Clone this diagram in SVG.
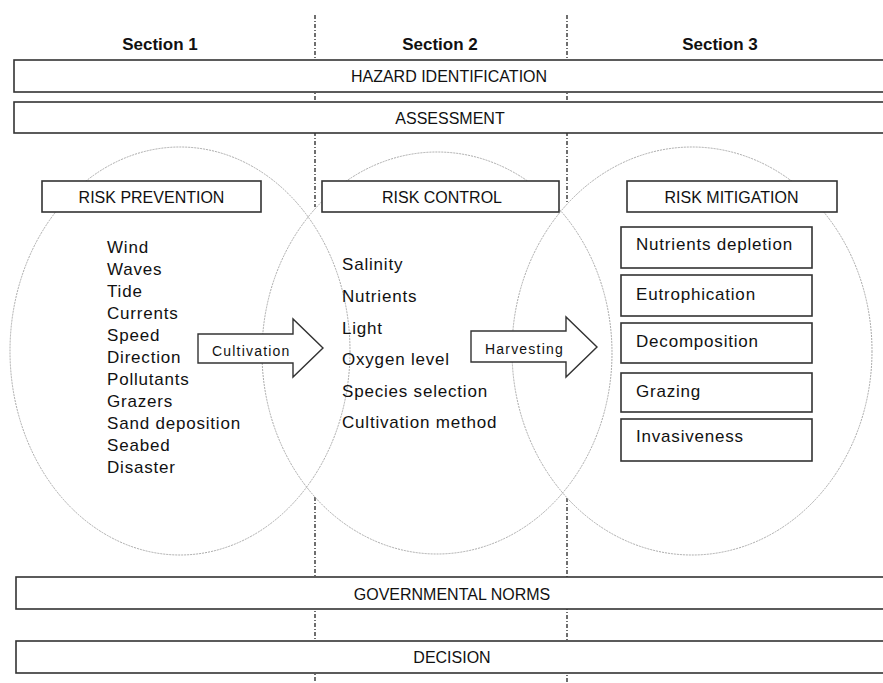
<svg xmlns="http://www.w3.org/2000/svg" width="883" height="683" viewBox="0 0 883 683">
<style>
.bar{fill:#fff;stroke:#333;stroke-width:1.6}
.box{fill:#fff;stroke:#333;stroke-width:1.6}
.ell{fill:none;stroke:#aaa;stroke-width:1;stroke-dasharray:2,1}
.div{stroke:#222;stroke-width:1.3;stroke-dasharray:4,2,1,2;fill:none}
.t{font-family:"Liberation Sans",Arial,sans-serif;fill:#111}
.hd{font-size:17px;font-weight:bold;text-anchor:middle}
.bt{font-size:16px;text-anchor:middle}
.li{font-size:17px;letter-spacing:0.8px}
.ar{fill:#fff;stroke:#333;stroke-width:1.4}
.al{font-size:14px;letter-spacing:1.2px}
</style>
<g id="dividers">
<path class="div" d="M315 15V207M315 497V683M567 15V204M567 498V683"/>
</g>
<g id="headers">
<text class="t hd" x="160" y="50">Section 1</text>
<text class="t hd" x="440" y="50">Section 2</text>
<text class="t hd" x="720" y="50">Section 3</text>
</g>
<g id="hazard">
<rect class="bar" x="14" y="60" width="880" height="32"/>
<text class="t bt" x="449" y="82">HAZARD IDENTIFICATION</text>
</g>
<g id="assessment">
<rect class="bar" x="14" y="102" width="880" height="31"/>
<text class="t bt" x="450" y="124">ASSESSMENT</text>
</g>
<g id="ellipses">
<ellipse class="ell" cx="180" cy="351" rx="170" ry="204"/>
<ellipse class="ell" cx="437" cy="353" rx="175" ry="201"/>
<ellipse class="ell" cx="692" cy="351" rx="180" ry="204"/>
</g>
<g id="risk-prevention">
<rect class="box" x="42" y="181" width="219" height="31"/>
<text class="t bt" x="151.5" y="203">RISK PREVENTION</text>
<text class="t li" x="107" y="253">Wind</text>
<text class="t li" x="107" y="275">Waves</text>
<text class="t li" x="107" y="297">Tide</text>
<text class="t li" x="107" y="319">Currents</text>
<text class="t li" x="107" y="341">Speed</text>
<text class="t li" x="107" y="363">Direction</text>
<text class="t li" x="107" y="385">Pollutants</text>
<text class="t li" x="107" y="407">Grazers</text>
<text class="t li" x="107" y="429">Sand deposition</text>
<text class="t li" x="107" y="451">Seabed</text>
<text class="t li" x="107" y="473">Disaster</text>
</g>
<g id="risk-control">
<rect class="box" x="322" y="181" width="237" height="31"/>
<text class="t bt" x="442" y="203">RISK CONTROL</text>
<text class="t li" x="342" y="270">Salinity</text>
<text class="t li" x="342" y="302">Nutrients</text>
<text class="t li" x="342" y="334">Light</text>
<text class="t li" x="342" y="365">Oxygen level</text>
<text class="t li" x="342" y="397">Species selection</text>
<text class="t li" x="342" y="428">Cultivation method</text>
</g>
<g id="risk-mitigation">
<rect class="box" x="627" y="181" width="210" height="31"/>
<text class="t bt" x="731.5" y="203">RISK MITIGATION</text>
</g>
<g id="nutrients-depletion">
<rect class="box" x="621" y="227" width="191" height="41"/>
<text class="t li" x="636" y="250">Nutrients depletion</text>
</g>
<g id="eutrophication">
<rect class="box" x="621" y="275" width="191" height="41"/>
<text class="t li" x="636" y="300">Eutrophication</text>
</g>
<g id="decomposition">
<rect class="box" x="621" y="323" width="191" height="40"/>
<text class="t li" x="636" y="347">Decomposition</text>
</g>
<g id="grazing">
<rect class="box" x="621" y="373" width="191" height="39"/>
<text class="t li" x="636" y="397">Grazing</text>
</g>
<g id="invasiveness">
<rect class="box" x="621" y="419" width="191" height="42"/>
<text class="t li" x="636" y="442">Invasiveness</text>
</g>
<g id="connectors">
<g id="cultivation-arrow">
<path class="ar" d="M198 334H293V319L323 348L293 377V363H198Z"/>
<text class="t al" x="212" y="356">Cultivation</text>
</g>
<g id="harvesting-arrow">
<path class="ar" d="M471 331H566V317L597 347L566 377V362H471Z"/>
<text class="t al" x="485" y="354">Harvesting</text>
</g>
</g>
<g id="governmental-norms">
<rect class="bar" x="16" y="577" width="880" height="32"/>
<text class="t bt" x="452" y="600">GOVERNMENTAL NORMS</text>
</g>
<g id="decision">
<rect class="bar" x="16" y="641" width="880" height="32"/>
<text class="t bt" x="452" y="663">DECISION</text>
</g>
</svg>
